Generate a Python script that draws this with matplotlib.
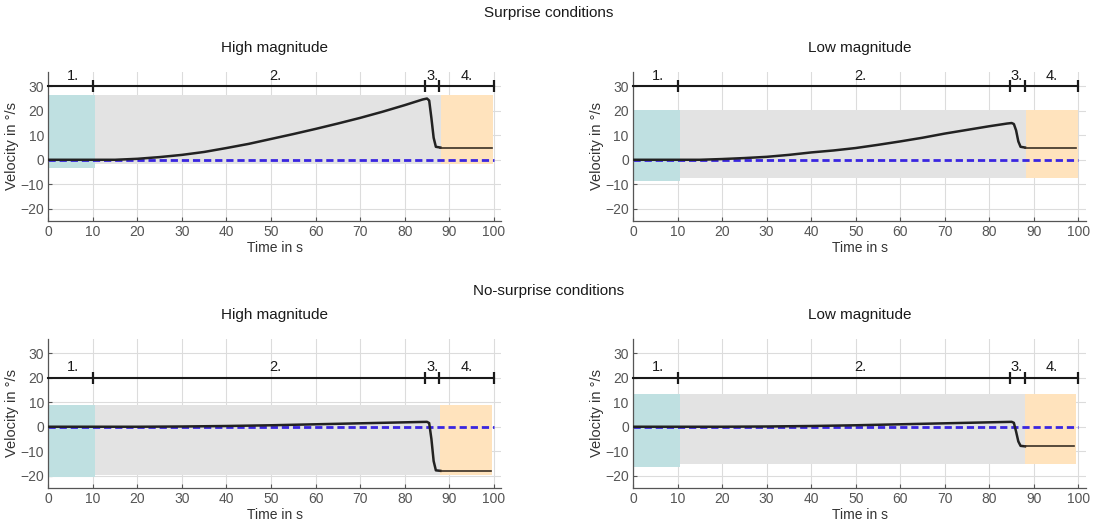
import numpy as np
import matplotlib.pyplot as plt

plt.rcParams['font.family'] = ['Liberation Sans', 'DejaVu Sans']

# velocity profiles (s, deg/s)
t_surp_high = [0, 10, 15, 20, 25, 30, 35, 40, 45, 50, 55, 60, 65, 70, 75, 80, 84, 85,
               85.5, 86, 86.5, 87, 88, 99.5]
v_surp_high = [0, 0, 0, 0.4, 1.1, 2.0, 3.2, 4.8, 6.5, 8.5, 10.5, 12.6, 14.8, 17.1, 19.6,
               22.3, 24.6, 25, 24.2, 17, 9, 5.3, 5, 5]
t_surp_low = [0, 10, 15, 20, 25, 30, 35, 40, 45, 50, 55, 60, 65, 70, 75, 80, 84, 85,
              85.5, 86, 86.5, 87, 88, 99.5]
v_surp_low = [0, 0, 0, 0.3, 0.7, 1.2, 2.0, 3.0, 3.8, 4.8, 6.1, 7.5, 9.0, 10.7, 12.2,
              13.7, 14.8, 15, 14.6, 12, 7.5, 5.3, 5, 5]
t_nosurp_high = [0, 10, 20, 30, 40, 50, 60, 70, 80, 85, 85.5, 86, 86.5, 87, 88, 99.3]
v_nosurp_high = [0, 0, 0, 0.1, 0.3, 0.6, 1.0, 1.4, 1.8, 2.0, 1.5, -5, -14, -17.8, -18, -18]
t_nosurp_low = [0, 10, 20, 30, 40, 50, 60, 70, 80, 85, 85.5, 86, 86.5, 87, 88, 99]
v_nosurp_low = [0, 0, 0, 0.1, 0.3, 0.6, 1.0, 1.4, 1.8, 2.0, 1.6, -2, -6, -7.8, -8, -8]
t_ref = [0, 100]
v_ref = [0, 0]

# shaded phase windows: (x0, x1, y0, y1)
bands_surp_high = [(0, 10.5, -3.3, 26.4), (10.5, 88.2, -1.8, 26.4), (88.2, 99.8, -1.8, 26.4)]
bands_surp_low = [(0, 10.5, -8.8, 20.4), (10.5, 88.2, -7.5, 20.4), (88.2, 99.8, -7.5, 20.4)]
bands_nosurp_high = [(0, 10.5, -20.7, 8.9), (10.5, 88, -19.7, 8.9), (88, 99.6, -19.7, 8.9)]
bands_nosurp_low = [(0, 10.5, -16.4, 13.2), (10.5, 88, -15.3, 13.2), (88, 99.5, -15.3, 13.2)]

phase_ticks_l = [10, 84.5, 87.8, 100]
phase_ticks_r = [10, 84.7, 88, 100]
phase_names = ['1.', '2.', '3.', '4.']
phase_name_x = [5.5, 51, 86.2, 94]

band_colors = ['#bfe0e1', '#e3e3e3', '#ffe3bd']
ax_gray = '#555555'

fig = plt.figure(figsize=(10.98, 5.28), dpi=100)

W = 0.4126
H = 0.283
positions = [(0.044, 0.5814), (0.5765, 0.5814), (0.044, 0.0758), (0.5765, 0.0758)]
panels = [
    ('High magnitude', t_surp_high, v_surp_high, bands_surp_high, 30, phase_ticks_l),
    ('Low magnitude', t_surp_low, v_surp_low, bands_surp_low, 30, phase_ticks_r),
    ('High magnitude', t_nosurp_high, v_nosurp_high, bands_nosurp_high, 20, phase_ticks_l),
    ('Low magnitude', t_nosurp_low, v_nosurp_low, bands_nosurp_low, 20, phase_ticks_r),
]

for pos, (title, t, v, bands, bar_y, pticks) in zip(positions, panels):
    ax = fig.add_axes([pos[0], pos[1], W, H])
    t = np.array(t)
    v = np.array(v)

    for (x0, x1, y0, y1), c in zip(bands, band_colors):
        ax.fill_between([x0, x1], y0, y1, color=c, lw=0, zorder=1)

    # reference (no motion) under the velocity trace
    ax.plot(t_ref, v_ref, color='#3a26e0', lw=2.0, dashes=(2.6, 1.4), zorder=2)

    main = t <= 88
    ax.plot(t[main], v[main], color='#222222', lw=1.8, zorder=3)
    ax.plot(t[t >= 88], v[t >= 88], color='#3a2f25', lw=1.2, zorder=3)

    # phase bar
    ax.plot([0, 100], [bar_y, bar_y], color='#1a1a1a', lw=1.5, zorder=5, clip_on=False)
    ax.plot(pticks, [bar_y] * len(pticks), ls='none', marker='|', ms=9, mew=1.6,
            color='#1a1a1a', zorder=5, clip_on=False)
    for name, x in zip(phase_names, phase_name_x):
        ax.text(x, bar_y + 4.3, name, ha='center', va='center', fontsize=10.5,
                color='#1a1a1a', zorder=6)

    ax.set_xlim(0, 101.7)
    ax.set_ylim(-25, 36)
    ax.set_xticks(np.arange(0, 101, 10))
    ax.set_yticks(np.arange(-20, 31, 10))
    ax.grid(True, color='#dcdcdc', lw=0.8)
    ax.set_axisbelow(True)
    for side in ['top', 'right']:
        ax.spines[side].set_visible(False)
    for side in ['left', 'bottom']:
        ax.spines[side].set_color(ax_gray)
        ax.spines[side].set_linewidth(0.9)
    ax.tick_params(direction='in', length=3, colors=ax_gray, labelsize=10, pad=3)
    ax.set_xlabel('Time in s', fontsize=10, color='#333333', labelpad=1)
    ax.set_ylabel('Velocity in °/s', fontsize=10.5, color='#333333', labelpad=1)
    ax.set_title(title, fontsize=11, color='#1a1a1a', pad=14)

fig.text(0.5, 0.975, 'Surprise conditions', ha='center', va='center', fontsize=11,
         color='#1a1a1a')
fig.text(0.5, 0.449, 'No-surprise conditions', ha='center', va='center', fontsize=11,
         color='#1a1a1a')

fig.savefig('out.png', dpi=100)
